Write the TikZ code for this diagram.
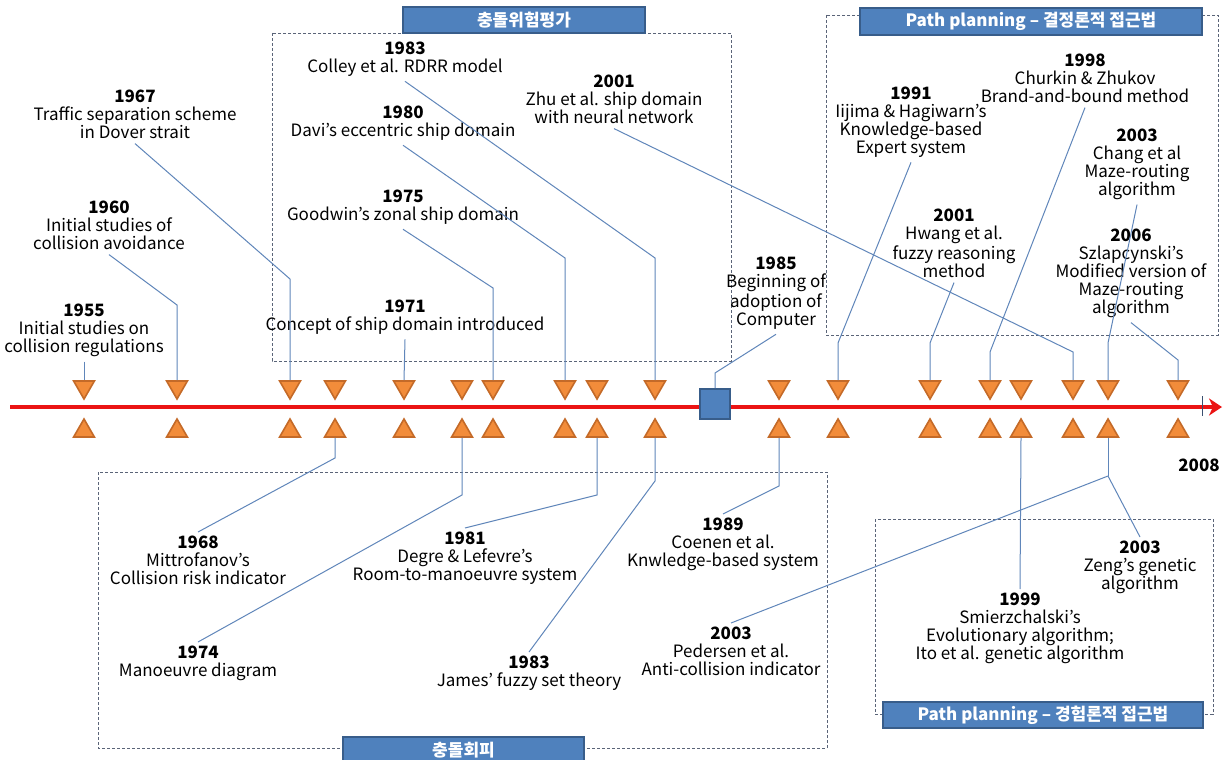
\documentclass[tikz,border=0pt]{standalone}
\usepackage{fontspec}
\setmainfont{Noto Sans CJK KR}
\usepackage{xcolor}
\usepackage{tikz}
\usetikzlibrary{shapes.geometric,arrows.meta}
\definecolor{triorange}{RGB}{242,140,58}
\definecolor{triedge}{RGB}{196,106,40}
\definecolor{linkblue}{RGB}{96,134,186}
\definecolor{hdrblue}{RGB}{79,129,189}
\definecolor{hdredge}{RGB}{56,93,138}
\definecolor{boxgray}{RGB}{90,100,120}
\definecolor{timered}{RGB}{235,20,20}
\tikzset{lbl/.style={align=center,inner sep=2pt,anchor=north,font=\fontsize{8.5}{9}\selectfont}}
\tikzset{dtri/.style={regular polygon,regular polygon sides=3,shape border rotate=180,draw=triedge,fill=triorange,line width=0.8pt,minimum size=12pt,inner sep=0pt}}
\tikzset{utri/.style={regular polygon,regular polygon sides=3,draw=triedge,fill=triorange,line width=0.8pt,minimum size=12pt,inner sep=0pt}}
\tikzset{link/.style={draw=linkblue,line width=0.5pt}}
\tikzset{frame/.style={draw=boxgray,line width=0.4pt,dash pattern=on 1.5pt off 1pt}}
\tikzset{hdr/.style={draw=hdredge,fill=hdrblue,line width=0.8pt,text=white,font=\fontsize{8.5}{9}\selectfont\bfseries,inner sep=0pt}}
\tikzset{comp/.style={draw=hdredge,fill=hdrblue,line width=0.8pt,minimum size=15pt,inner sep=0pt}}
\tikzset{timeline/.style={draw=timered,line width=1.6pt,-{Stealth[length=6.5pt,width=8.5pt,inset=2pt]}}}

\begin{document}
\begin{tikzpicture}[x=0.5pt,y=-0.5pt]
    \fill[white] (0,0) rectangle (1224,759);
    \useasboundingbox (0,0) rectangle (1224,759);

    \draw[frame] (272,33) rectangle (731,361);
    \draw[frame] (826,15) rectangle (1218,335);
    \draw[frame] (98,472) rectangle (827,748);
    \draw[frame] (875,519) rectangle (1213,714);

    \node[hdr,minimum width=121pt,minimum height=13pt] (risk) at (524,20) {충돌위험평가};
    \node[hdr,minimum width=171pt,minimum height=13.5pt] (det) at (1031,21.5) {Path planning – 결정론적 접근법};
    \node[hdr,minimum width=120.5pt,minimum height=13pt] (avoid) at (463.5,750) {충돌회피};
    \node[hdr,minimum width=160pt,minimum height=13pt] (heur) at (1043,715) {Path planning – 경험론적 접근법};

    \coordinate (tstart) at (10,407);
    \coordinate (tend) at (1222,407);
    \draw[timeline] (tstart) -- (tend);
    \draw[linkblue!60!black,line width=0.5pt] (1202,396) -- (1202,416);

    \foreach \x/\n in {84/1955,177/1960,290/1967,335/1968,404/1971,462/1974,493/1975,565/1980,597/1981,655/1983,779/1989,838/1991,930/2001h,990/1998,1021/1999,1073/2001z,1108/2003,1178/2006}{
        \node[dtri] (d\n) at (\x,387) {};
        \node[utri] (u\n) at (\x,431) {};
    }
    \node[comp] (c1985) at (715,404) {};

    \node[lbl] (l1955) at (84,300) {\textbf{1955}\\Initial studies on\\collision regulations};
    \node[lbl] (l1960) at (109,197) {\textbf{1960}\\Initial studies of\\collision avoidance};
    \node[lbl] (l1967) at (135,86) {\textbf{1967}\\Traffic separation scheme\\in Dover strait};
    \node[lbl] (l1971) at (405,296) {\textbf{1971}\\Concept of ship domain introduced};
    \node[lbl] (l1975) at (403,186) {\textbf{1975}\\Goodwin's zonal ship domain};
    \node[lbl] (l1980) at (403,102) {\textbf{1980}\\Davi's eccentric ship domain};
    \node[lbl] (l1983) at (405,38) {\textbf{1983}\\Colley et al. RDRR model};
    \node[lbl] (l2001z) at (614,71) {\textbf{2001}\\Zhu et al. ship domain\\with neural network};
    \node[lbl] (l1985) at (776,253) {\textbf{1985}\\Beginning of\\adoption of\\Computer};
    \node[lbl] (l1991) at (911,83) {\textbf{1991}\\Iijima \& Hagiwarn's\\Knowledge-based\\Expert system};
    \node[lbl] (l2001h) at (954,205) {\textbf{2001}\\Hwang et al.\\fuzzy reasoning\\method};
    \node[lbl] (l1998) at (1085,50) {\textbf{1998}\\Churkin \& Zhukov\\Brand-and-bound method};
    \node[lbl] (l2003c) at (1137,125) {\textbf{2003}\\Chang et al\\Maze-routing\\algorithm};
    \node[lbl] (l2006) at (1131,225) {\textbf{2006}\\Szlapcynski's\\Modified version of\\Maze-routing\\algorithm};

    \node[lbl] (l1968) at (198,532) {\textbf{1968}\\Mittrofanov's\\Collision risk indicator};
    \node[lbl] (l1974) at (198,642) {\textbf{1974}\\Manoeuvre diagram};
    \node[lbl] (l1981) at (465,528) {\textbf{1981}\\Degre \& Lefevre's\\Room-to-manoeuvre system};
    \node[lbl] (l1983j) at (529,652) {\textbf{1983}\\James' fuzzy set theory};
    \node[lbl] (l1989) at (723,514) {\textbf{1989}\\Coenen et al.\\Knwledge-based system};
    \node[lbl] (l2003p) at (731,623) {\textbf{2003}\\Pedersen et al.\\Anti-collision indicator};
    \node[lbl] (l1999) at (1020,589) {\textbf{1999}\\Smierzchalski's\\Evolutionary algorithm;\\Ito et al. genetic algorithm};
    \node[lbl] (l2003z) at (1140,537) {\textbf{2003}\\Zeng's genetic\\algorithm};
    \node[lbl,anchor=center] (l2008) at (1199,465) {\textbf{2008}};

    \draw[link] (l1955.south) -- (d1955.north);
    \draw[link] (l1960.south) -- (d1960.north |- 0,305) -- (d1960.north);
    \draw[link] (l1967.south) -- (d1967.north |- 0,279) -- (d1967.north);
    \draw[link] (l1971.south) -- (d1971.north);
    \draw[link] (l1975.south) -- (d1975.north |- 0,288) -- (d1975.north);
    \draw[link] (l1980.south) -- (d1980.north |- 0,258) -- (d1980.north);
    \draw[link] (l1983.south) -- (d1983.north |- 0,258) -- (d1983.north);
    \draw[link] (l2001z.south) -- (d2001z.north |- 0,352) -- (d2001z.north);
    \draw[link] (l1985.south) -- (c1985.north |- 0,373) -- (c1985.north);
    \draw[link] (l1991.south) -- (d1991.north |- 0,343) -- (d1991.north);
    \draw[link] (l2001h.south) -- (d2001h.north |- 0,343) -- (d2001h.north);
    \draw[link] (l1998.south) -- (d1998.north |- 0,352) -- (d1998.north);
    \draw[link] (l2003c.south) -- (d2003.north |- 0,343) -- (d2003.north);
    \draw[link] (l2006.south) -- (d2006.north |- 0,360) -- (d2006.north);

    \draw[link] (u1968.south) -- (u1968.south |- 0,458) -- (l1968.north);
    \draw[link] (u1974.south) -- (u1974.south |- 0,495) -- (l1974.north);
    \draw[link] (u1981.south) -- (u1981.south |- 0,495) -- (l1981.north);
    \draw[link] (u1983.south) -- (u1983.south |- 0,481) -- (l1983j.north);
    \draw[link] (u1989.south) -- (u1989.south |- 0,486) -- (l1989.north);
    \draw[link] (u1999.south) -- (l1999.north);
    \coordinate (j2003) at (1108,476);
    \draw[link] (u2003.south) -- (j2003);
    \draw[link] (j2003) -- (l2003p.north);
    \draw[link] (j2003) -- (l2003z.north);
\end{tikzpicture}
\end{document}
